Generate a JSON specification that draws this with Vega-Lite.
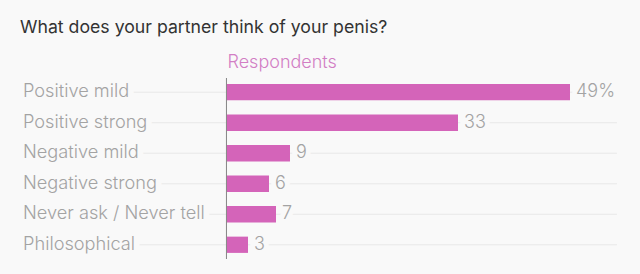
{
 "$schema": "https://vega.github.io/schema/vega-lite/v6.json",
 "width": 600, "height": 181,
 "autosize": {"type": "none"},
 "padding": {"left": 20, "top": 78, "right": 20, "bottom": 15},
 "background": "#f9f9f9",
 "title": {"text": "What does your partner think of your penis?", "anchor": "start", "frame": "group", "font": "Inter", "fontSize": 17.7, "fontWeight": "normal", "color": "#333333", "baseline": "alphabetic", "offset": 2},
 "config": {"view": {"stroke": null}},
 "data": {"values": [
  {"cat": "Positive mild", "value": 49, "label": "49%"},
  {"cat": "Positive strong", "value": 33, "label": "33"},
  {"cat": "Negative mild", "value": 9, "label": "9"},
  {"cat": "Negative strong", "value": 6, "label": "6"},
  {"cat": "Never ask / Never tell", "value": 7, "label": "7"},
  {"cat": "Philosophical", "value": 3, "label": "3"}
 ]},
 "layer": [
  {"mark": {"type": "rule", "color": "#e8e8e8", "strokeWidth": 1},
   "encoding": {
    "y": {"field": "cat", "type": "nominal", "sort": null, "axis": null, "scale": {"paddingInner": 0.4667, "paddingOuter": 0.2}},
    "x": {"datum": -29.14, "type": "quantitative", "scale": {"domain": [-29.571, 56.143], "nice": false, "zero": false},
      "axis": {"orient": "top", "title": "Respondents", "labels": false, "ticks": false, "domain": false, "grid": false, "titleX": 207, "titleY": -11, "titleAlign": "left", "titleAnchor": null, "titleBaseline": "alphabetic", "titleColor": "#d27ec4", "titleFont": "Inter", "titleFontSize": 18, "titleFontWeight": 300}},
    "x2": {"datum": 55.7}}},
  {"mark": {"type": "text", "align": "left", "baseline": "middle", "font": "Inter", "fontSize": 18.2, "fontWeight": 300, "fill": "#f9f9f9", "stroke": "#f9f9f9", "strokeWidth": 12},
   "encoding": {
    "y": {"field": "cat", "type": "nominal", "sort": null, "axis": null},
    "x": {"datum": -29.14, "type": "quantitative"},
    "text": {"field": "cat"}}},
  {"mark": {"type": "text", "align": "left", "baseline": "middle", "dx": 6, "font": "Inter", "fontSize": 18, "fontWeight": 300, "fill": "#f9f9f9", "stroke": "#f9f9f9", "strokeWidth": 10},
   "encoding": {
    "y": {"field": "cat", "type": "nominal", "sort": null, "axis": null},
    "x": {"field": "value", "type": "quantitative"},
    "text": {"field": "label"}}},
  {"mark": {"type": "bar", "color": "#d464b9"},
   "encoding": {
    "y": {"field": "cat", "type": "nominal", "sort": null, "axis": null},
    "x": {"field": "value", "type": "quantitative"},
    "x2": {"datum": 0}}},
  {"mark": {"type": "rule", "color": "#8a8a8a", "strokeWidth": 1, "xOffset": -0.5},
   "encoding": {"x": {"datum": 0, "type": "quantitative"}}},
  {"mark": {"type": "text", "align": "left", "baseline": "middle", "font": "Inter", "fontSize": 18.2, "fontWeight": 300, "color": "#a3a3a3"},
   "encoding": {
    "y": {"field": "cat", "type": "nominal", "sort": null, "axis": null},
    "x": {"datum": -29.14, "type": "quantitative"},
    "text": {"field": "cat"}}},
  {"mark": {"type": "text", "align": "left", "baseline": "middle", "dx": 6, "font": "Inter", "fontSize": 18, "fontWeight": 300, "color": "#a3a3a3"},
   "encoding": {
    "y": {"field": "cat", "type": "nominal", "sort": null, "axis": null},
    "x": {"field": "value", "type": "quantitative"},
    "text": {"field": "label"}}}
 ]
}
